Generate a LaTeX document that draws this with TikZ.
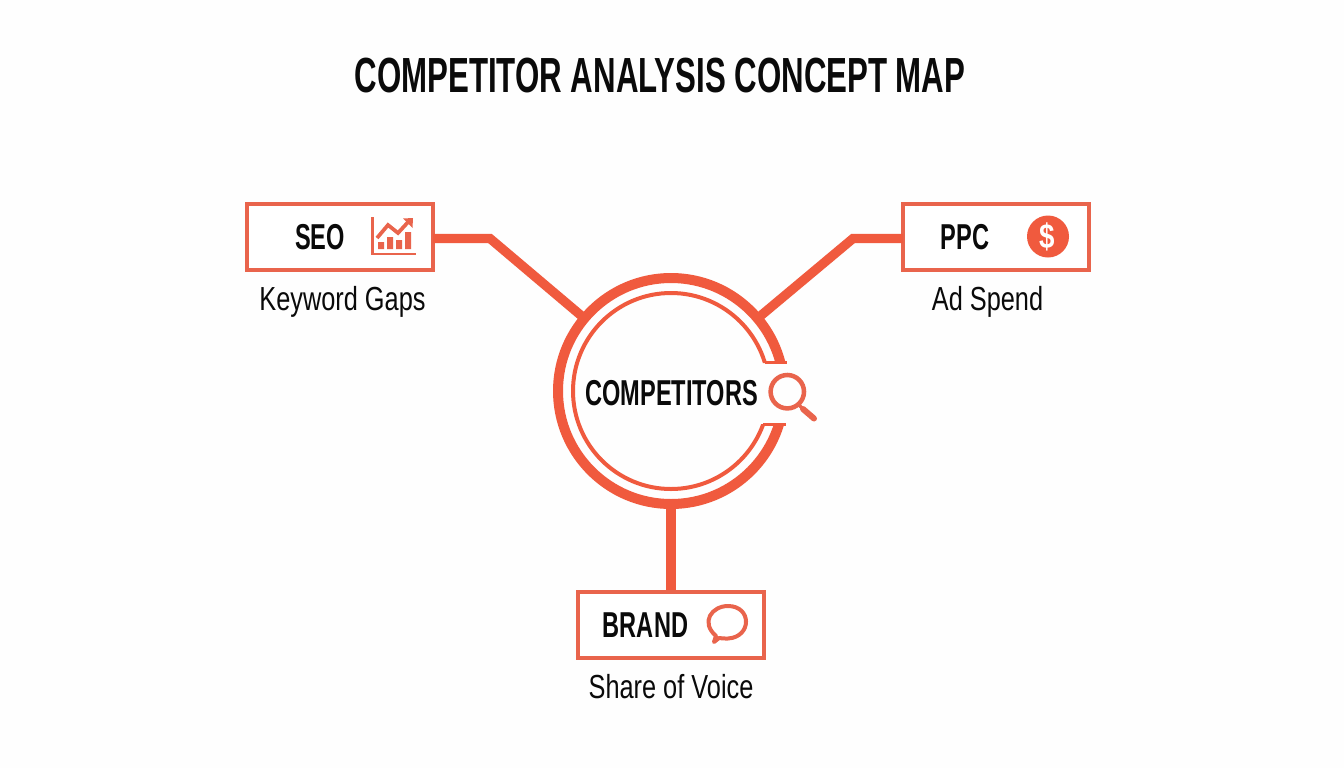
\documentclass[tikz,border=0pt]{standalone}
\usepackage{fontspec}
\setmainfont{Liberation Sans}
\newfontfamily\titlefont[FakeStretch=0.633]{Liberation Sans Bold}
\newfontfamily\boldfont[FakeStretch=0.655]{Liberation Sans Bold}
\newfontfamily\subfont[FakeStretch=0.76]{Liberation Sans}
\newfontfamily\dollarfont[FakeStretch=0.8]{Liberation Sans Bold}
\definecolor{accent}{HTML}{F05A3E}
\definecolor{boxline}{HTML}{E9644C}
\definecolor{ink}{HTML}{0A0A0A}
\definecolor{paper}{HTML}{FEFEFE}
\tikzset{
  cardbox/.style={draw=boxline,line width=3pt,fill=white,minimum width=139.5pt,minimum height=49.5pt,inner sep=0pt,rectangle},
  cardtext/.style={font=\boldfont\fontsize{27}{30}\selectfont,text=ink,inner sep=0pt},
  subtext/.style={font=\subfont\fontsize{25}{28}\selectfont,text=ink,inner sep=0pt},
  link/.style={draw=accent,line width=7pt,line join=miter},
}
\begin{document}
\begin{tikzpicture}[x=0.75pt,y=-0.75pt]
\useasboundingbox[fill=paper] (0,0) rectangle (1344,768);
\node[font=\titlefont\fontsize{37}{42}\selectfont,text=ink,inner sep=0pt] (title) at (660,76) {COMPETITOR ANALYSIS CONCEPT MAP};

\node[circle,minimum size=174pt,inner sep=0pt] (hub) at (671,391) {};
\node[cardbox] (seo) at (340,237) {};
\node[cardbox] (ppc) at (996,237) {};
\node[cardbox] (brand) at (671,624.5) {};
\coordinate (seoport) at (433,238.5);
\coordinate (ppcport) at (903,238.5);
\coordinate (seobend) at (490,238.5);
\coordinate (ppcbend) at (853,238.5);

\draw[link] (seoport) -- (seobend) -- (hub.140);
\draw[link] (ppcport) -- (ppcbend) -- (hub.40);
\draw[link] (hub.south) -- (brand.north);

\begin{scope}
\clip (530,250) -- (840,250) -- (840,363) -- (720,363) -- (720,424) -- (840,424) -- (840,530) -- (530,530) -- cycle;
\draw[accent,line width=7.5pt] (671,391) circle[radius=113];
\draw[accent,line width=3pt] (671,391) circle[radius=98];
\end{scope}
\fill[accent] (765,361) rectangle (787,364);
\fill[accent] (763,423) rectangle (786,426);

\node[cardtext] (hubtext) at (671.5,393) {COMPETITORS};
\draw[boxline,line width=3.4pt] (787.3,391.7) circle[radius=16.7];
\draw[boxline,line width=2.5pt] (798,404) -- (803,409);
\draw[boxline,line width=4.5pt,line cap=round] (803,409) -- (814,418.5);

\node[cardtext] (seotext) at (320,237) {SEO};
\node[cardtext] (ppctext) at (965,237) {PPC};
\node[cardtext] (brandtext) at (645.5,625) {BRAND};
\node[subtext] (seosub) at (342.5,302) {Keyword Gaps};
\node[subtext] (ppcsub) at (987.5,302) {Ad Spend};
\node[subtext] (brandsub) at (671,687) {Share of Voice};

% chart icon
\draw[boxline,line width=2pt] (372.5,217) -- (372.5,254) -- (416,254);
\fill[boxline] (378,242) rectangle (384,249) (387,237) rectangle (393,249) (396,240) rectangle (402,249) (405,232) rectangle (411,249);
\draw[boxline,line width=2.8pt] (377,238) -- (388,225) -- (398,233) -- (410,220);
\fill[boxline] (413,218) -- (403,218.5) -- (412.5,228) -- cycle;

% dollar icon
\fill[accent] (1048,236.5) circle[radius=21];
\node[font=\dollarfont\fontsize{26}{28}\selectfont,text=white,inner sep=0pt] (dollar) at (1047,236.5) {\$};

% speech bubble icon
\draw[boxline,line width=3pt,line join=round,fill=white] (716,636) .. controls (700,622) and (712,606) .. (728,606) .. controls (752,606) and (752,637) .. (728,638.5) .. controls (724,638.5) and (722,638.5) .. (719,638) -- (714,642) -- cycle;
\end{tikzpicture}
\end{document}
